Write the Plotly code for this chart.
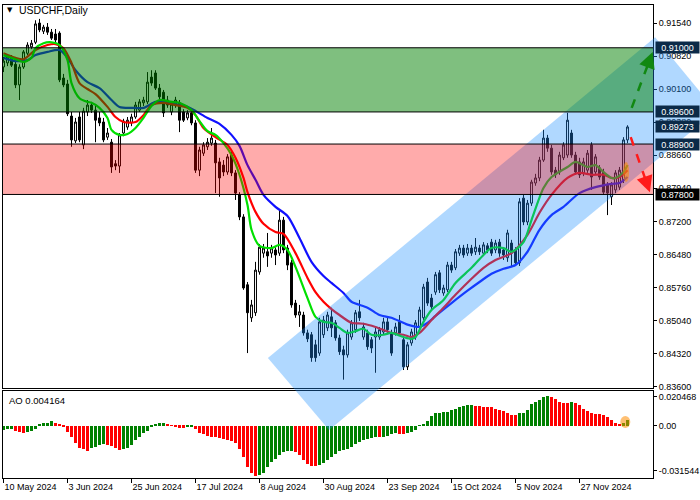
import plotly.graph_objects as go
import pandas as pd

# ---------------- data ----------------
DATES = pd.bdate_range("2024-05-10", periods=157)
BARS = list(range(len(DATES)))

OPEN = [0.9058,0.9067,0.9078,0.9064,0.9019,0.9058,0.9088,0.9102,0.9112,0.9154,
        0.9136,0.9145,0.9134,0.9130,0.9132,0.9034,0.9021,0.8951,0.8897,0.8949,
        0.8888,0.8960,0.8975,0.8964,0.8947,0.8938,0.8905,0.8894,0.8847,0.8842,
        0.8914,0.8927,0.8936,0.8949,0.8964,0.8980,0.8982,0.9036,0.9045,0.9012,
        0.9003,0.8986,0.8960,0.8975,0.8980,0.8960,0.8947,0.8958,0.8936,0.8833,
        0.8870,0.8884,0.8892,0.8892,0.8851,0.8844,0.8829,0.8866,0.8827,0.8779,
        0.8731,0.8583,0.8511,0.8522,0.8611,0.8652,0.8655,0.8652,0.8659,0.8652,
        0.8724,0.8663,0.8631,0.8543,0.8517,0.8517,0.8478,0.8474,0.8452,0.8434,
        0.8474,0.8489,0.8513,0.8500,0.8467,0.8441,0.8430,0.8469,0.8485,0.8524,
        0.8469,0.8478,0.8463,0.8469,0.8469,0.8480,0.8502,0.8478,0.8478,0.8502,
        0.8463,0.8404,0.8456,0.8469,0.8491,0.8511,0.8589,0.8554,0.8567,0.8609,
        0.8565,0.8572,0.8626,0.8620,0.8652,0.8663,0.8652,0.8663,0.8655,0.8663,
        0.8652,0.8668,0.8676,0.8659,0.8676,0.8659,0.8642,0.8674,0.8659,0.8631,
        0.8772,0.8720,0.8761,0.8805,0.8816,0.8855,0.8903,0.8881,0.8833,0.8829,
        0.8860,0.8866,0.8914,0.8866,0.8851,0.8827,0.8833,0.8888,0.8829,0.8838,
        0.8829,0.8801,0.8775,0.8790,0.8796,0.8812,0.8899]
HIGH = [0.9080,0.9086,0.9084,0.9069,0.9064,0.9095,0.9112,0.9117,0.9160,0.9163,
        0.9150,0.9154,0.9141,0.9141,0.9136,0.9043,0.9030,0.8960,0.8947,0.8960,
        0.8969,0.8986,0.8982,0.8973,0.8960,0.8947,0.8925,0.8901,0.8855,0.8914,
        0.8945,0.8949,0.8956,0.8982,0.8988,0.8993,0.9047,0.9051,0.9051,0.9021,
        0.9008,0.8995,0.8984,0.8993,0.8986,0.8966,0.8964,0.8964,0.8942,0.8884,
        0.8894,0.8903,0.8925,0.8899,0.8860,0.8855,0.8868,0.8877,0.8833,0.8785,
        0.8737,0.8589,0.8550,0.8633,0.8672,0.8672,0.8696,0.8670,0.8665,0.8746,
        0.8731,0.8670,0.8637,0.8550,0.8539,0.8524,0.8485,0.8480,0.8463,0.8511,
        0.8515,0.8524,0.8533,0.8506,0.8474,0.8450,0.8485,0.8506,0.8528,0.8550,
        0.8500,0.8485,0.8469,0.8489,0.8491,0.8511,0.8511,0.8485,0.8500,0.8517,
        0.8469,0.8458,0.8487,0.8506,0.8535,0.8585,0.8598,0.8563,0.8611,0.8615,
        0.8583,0.8633,0.8633,0.8661,0.8670,0.8670,0.8672,0.8670,0.8685,0.8670,
        0.8676,0.8674,0.8683,0.8681,0.8683,0.8665,0.8703,0.8681,0.8665,0.8772,
        0.8779,0.8768,0.8812,0.8825,0.8862,0.8921,0.8910,0.8888,0.8840,0.8873,
        0.8894,0.8958,0.8921,0.8873,0.8860,0.8860,0.8877,0.8894,0.8868,0.8844,
        0.8836,0.8807,0.8807,0.8833,0.8840,0.8905,0.8931]
LOW = [0.9047,0.9060,0.9058,0.9012,0.8986,0.9054,0.9084,0.9097,0.9108,0.9134,
       0.9130,0.9128,0.9117,0.9112,0.9025,0.9014,0.8951,0.8884,0.8892,0.8894,
       0.8879,0.8951,0.8958,0.8894,0.8929,0.8894,0.8899,0.8827,0.8833,0.8827,
       0.8907,0.8921,0.8929,0.8945,0.8960,0.8973,0.8977,0.9017,0.9008,0.8988,
       0.8949,0.8969,0.8953,0.8969,0.8916,0.8938,0.8942,0.8931,0.8827,0.8820,
       0.8864,0.8877,0.8886,0.8783,0.8775,0.8820,0.8823,0.8820,0.8768,0.8724,
       0.8572,0.8434,0.8502,0.8515,0.8605,0.8642,0.8622,0.8642,0.8626,0.8646,
       0.8652,0.8615,0.8533,0.8511,0.8491,0.8472,0.8458,0.8415,0.8415,0.8428,
       0.8467,0.8482,0.8469,0.8461,0.8430,0.8376,0.8424,0.8463,0.8478,0.8504,
       0.8463,0.8441,0.8434,0.8391,0.8463,0.8474,0.8478,0.8428,0.8472,0.8472,
       0.8397,0.8397,0.8450,0.8463,0.8485,0.8506,0.8537,0.8528,0.8561,0.8565,
       0.8559,0.8567,0.8609,0.8615,0.8646,0.8642,0.8646,0.8646,0.8648,0.8648,
       0.8646,0.8652,0.8646,0.8652,0.8644,0.8637,0.8633,0.8622,0.8624,0.8624,
       0.8713,0.8713,0.8755,0.8799,0.8809,0.8851,0.8873,0.8823,0.8816,0.8823,
       0.8855,0.8860,0.8860,0.8823,0.8816,0.8820,0.8827,0.8790,0.8823,0.8812,
       0.8779,0.8735,0.8757,0.8783,0.8790,0.8805,0.8892]
CLOSE = [0.9071,0.9080,0.9062,0.9019,0.9058,0.9091,0.9106,0.9110,0.9152,0.9139,
         0.9145,0.9134,0.9121,0.9117,0.9030,0.9019,0.8956,0.8899,0.8938,0.8899,
         0.8962,0.8975,0.8964,0.8942,0.8936,0.8899,0.8914,0.8840,0.8842,0.8910,
         0.8940,0.8942,0.8949,0.8975,0.8982,0.8986,0.9025,0.9023,0.9012,0.8993,
         0.8958,0.8975,0.8977,0.8986,0.8942,0.8942,0.8958,0.8936,0.8833,0.8877,
         0.8888,0.8894,0.8903,0.8849,0.8816,0.8829,0.8862,0.8827,0.8783,0.8731,
         0.8576,0.8522,0.8539,0.8615,0.8665,0.8663,0.8646,0.8663,0.8648,0.8724,
         0.8659,0.8626,0.8539,0.8517,0.8524,0.8478,0.8465,0.8424,0.8424,0.8502,
         0.8506,0.8517,0.8489,0.8467,0.8437,0.8430,0.8478,0.8500,0.8522,0.8511,
         0.8491,0.8448,0.8445,0.8480,0.8485,0.8502,0.8485,0.8434,0.8491,0.8478,
         0.8404,0.8452,0.8480,0.8500,0.8528,0.8578,0.8543,0.8535,0.8605,0.8572,
         0.8576,0.8626,0.8615,0.8655,0.8663,0.8648,0.8663,0.8652,0.8665,0.8655,
         0.8670,0.8659,0.8652,0.8674,0.8652,0.8648,0.8696,0.8652,0.8631,0.8764,
         0.8720,0.8761,0.8807,0.8816,0.8855,0.8903,0.8881,0.8829,0.8823,0.8866,
         0.8888,0.8942,0.8866,0.8829,0.8823,0.8851,0.8870,0.8818,0.8862,0.8818,
         0.8785,0.8783,0.8801,0.8827,0.8833,0.8899,0.89273]

# moving averages (bar index, value)
FAST_BARS = [0,3,5,7,8,10,12,14,16,17,19,21,22,24,26,27,29,31,33,35,37,39,42,44,47,49,
             51,53,55,57,59,61,62,64,67,69,71,73,76,78,80,82,84,86,88,90,92,95,97,100,
             102,103,105,107,110,113,117,120,122,125,127,130,132,135,137,141,143,146,
             148,150,152,153,155,156]
FAST = [0.9084,0.9075,0.9069,0.9078,0.9099,0.9110,0.9112,0.9106,0.9073,0.9023,0.8990,
        0.8982,0.8980,0.8969,0.8947,0.8921,0.8910,0.8912,0.8925,0.8947,0.8973,0.8986,
        0.8982,0.8980,0.8964,0.8940,0.8918,0.8910,0.8892,0.8866,0.8823,0.8757,0.8703,
        0.8668,0.8663,0.8670,0.8659,0.8622,0.8554,0.8513,0.8502,0.8500,0.8489,0.8478,
        0.8482,0.8487,0.8474,0.8474,0.8478,0.8469,0.8465,0.8469,0.8502,0.8528,0.8550,
        0.8587,0.8620,0.8648,0.8663,0.8663,0.8655,0.8676,0.8724,0.8794,0.8818,0.8840,
        0.8851,0.8840,0.8844,0.8829,0.8816,0.8816,0.8829,0.8844]
MID_BARS = [0,3,5,8,11,13,15,17,19,21,23,26,28,30,33,35,37,40,43,46,48,50,53,56,58,60,
            61,63,65,68,70,73,76,78,80,82,84,87,90,93,97,100,102,104,107,110,113,117,
            120,123,127,131,134,137,141,144,147,150,152,154,156]
MID = [0.9088,0.9078,0.9075,0.9095,0.9106,0.9108,0.9099,0.9067,0.9023,0.9010,0.8999,
       0.8971,0.8949,0.8938,0.8938,0.8953,0.8975,0.8980,0.8975,0.8969,0.8953,0.8925,
       0.8905,0.8888,0.8860,0.8816,0.8785,0.8742,0.8716,0.8698,0.8694,0.8652,0.8598,
       0.8567,0.8546,0.8530,0.8517,0.8500,0.8498,0.8491,0.8478,0.8474,0.8469,0.8478,
       0.8506,0.8533,0.8561,0.8596,0.8620,0.8637,0.8652,0.8692,0.8740,0.8779,0.8816,
       0.8827,0.8823,0.8823,0.8816,0.8818,0.8833]
SLOW_BARS = [0,3,6,8,11,14,16,18,21,24,27,29,32,35,38,40,43,46,48,51,54,57,59,61,63,65,
             68,71,74,77,80,82,85,87,91,94,97,101,104,106,108,112,116,119,122,125,128,
             131,134,137,140,144,148,152,154,156]
SLOW = [0.9078,0.9071,0.9073,0.9084,0.9091,0.9095,0.9078,0.9051,0.9025,0.9012,0.8986,
        0.8971,0.8969,0.8969,0.8982,0.8982,0.8977,0.8971,0.8962,0.8947,0.8934,0.8910,
        0.8886,0.8844,0.8812,0.8779,0.8753,0.8733,0.8685,0.8633,0.8602,0.8587,0.8565,
        0.8546,0.8533,0.8517,0.8511,0.8496,0.8491,0.8500,0.8515,0.8543,0.8570,0.8589,
        0.8607,0.8618,0.8626,0.8655,0.8703,0.8735,0.8753,0.8783,0.8796,0.8803,0.8805,
        0.8818]

AO = [-0.0025,-0.0022,-0.0021,-0.0033,-0.0045,-0.0047,-0.0040,-0.0033,-0.0019,0.0012,
      0.0019,0.0023,0.0033,0.0023,0.0014,-0.0005,-0.0040,-0.0075,-0.0117,-0.0157,
      -0.0164,-0.0174,-0.0153,-0.0146,-0.0134,-0.0127,-0.0134,-0.0141,-0.0157,-0.0169,
      -0.0162,-0.0157,-0.0134,-0.0099,-0.0075,-0.0052,-0.0033,-0.0009,0.0007,0.0021,
      0.0023,0.0014,0.0005,-0.0005,-0.0012,-0.0013,-0.0005,-0.0002,-0.0023,-0.0047,
      -0.0056,-0.0070,-0.0075,-0.0080,-0.0087,-0.0094,-0.0099,-0.0106,-0.0122,-0.0164,
      -0.0221,-0.0287,-0.0329,-0.0350,-0.0345,-0.0334,-0.0287,-0.0251,-0.0233,-0.0204,
      -0.0181,-0.0176,-0.0174,-0.0181,-0.0204,-0.0240,-0.0268,-0.0282,-0.0283,-0.0275,
      -0.0263,-0.0240,-0.0221,-0.0197,-0.0174,-0.0169,-0.0165,-0.0150,-0.0130,-0.0112,
      -0.0100,-0.0091,-0.0085,-0.0080,-0.0081,-0.0076,-0.0068,-0.0059,-0.0052,-0.0053,
      -0.0054,-0.0047,-0.0040,-0.0028,0.0005,0.0012,0.0035,0.0070,0.0089,0.0094,
      0.0096,0.0098,0.0113,0.0117,0.0136,0.0143,0.0146,0.0149,0.0143,0.0141,
      0.0136,0.0135,0.0132,0.0120,0.0113,0.0106,0.0094,0.0080,0.0078,0.0089,
      0.0091,0.0113,0.0155,0.0172,0.0183,0.0207,0.0212,0.0202,0.0188,0.0172,
      0.0165,0.0163,0.0166,0.0160,0.0148,0.0117,0.0106,0.0094,0.0087,0.0085,
      0.0075,0.0066,0.0042,0.0023,0.0014,0.0023,0.004164]

TICK_BARS = [0, 16, 32, 48, 64, 80, 96, 112, 128, 144]
TICK_LABELS = ["10 May 2024", "3 Jun 2024", "25 Jun 2024", "17 Jul 2024", "8 Aug 2024",
               "30 Aug 2024", "23 Sep 2024", "15 Oct 2024", "5 Nov 2024", "27 Nov 2024"]
PRICE_TICKS = [0.9154, 0.9082, 0.9010, 0.8938, 0.8866, 0.8794, 0.8720, 0.8648,
               0.8576, 0.8504, 0.8432, 0.8360]
AO_TICKS = [0.020468, 0.0, -0.031544]
AO_TICK_TEXT = ["0.020468", "0.00", "-0.031544"]

BUY_ZONE = [0.8960, 0.9100]
SELL_ZONE = [0.8780, 0.8890]
LEVELS = [0.9100, 0.8960, 0.8890, 0.8780]
LAST_PRICE = 0.89273

# channel corners (bar index, price)
CHANNEL_BARS = [66.1, 81.4, 178.1, 162.9]
CHANNEL_PRICES = [0.8423, 0.8266, 0.8962, 0.9123]

# arrows (bar, price) start -> end
UP_ARROW = [(157.05, 0.8969), (162.3, 0.9091)]
DOWN_ARROW = [(156.8, 0.8905), (161.6, 0.8785)]

# ---------------- layout geometry ----------------
W, H = 700, 500
XR = [-0.125, 162.375]
YR = [0.83578, 0.91933]
AOR = [-0.0366, 0.0246]
XD = [3 / W, 653 / W]
YD_MAIN = [1 - 388 / H, 1 - 5 / H]
YD_AO = [1 - 478 / H, 1 - 391 / H]
FONT = "Liberation Sans"


def to_paper(bar, price):
    px = XD[0] + (bar - XR[0]) / (XR[1] - XR[0]) * (XD[1] - XD[0])
    py = YD_MAIN[0] + (price - YR[0]) / (YR[1] - YR[0]) * (YD_MAIN[1] - YD_MAIN[0])
    return px, py


fig = go.Figure()

fig.add_trace(go.Candlestick(
    x=BARS, open=OPEN, high=HIGH, low=LOW, close=CLOSE,
    increasing=dict(line=dict(color="black", width=1), fillcolor="white"),
    decreasing=dict(line=dict(color="black", width=1), fillcolor="black"),
    whiskerwidth=0, hoverinfo="skip", xaxis="x", yaxis="y"))

for bx, vals, col in [(SLOW_BARS, SLOW, "#1010FF"), (MID_BARS, MID, "#FF0000"),
                      (FAST_BARS, FAST, "#00E000")]:
    fig.add_trace(go.Scatter(x=bx, y=vals, mode="lines",
                             line=dict(color=col, width=2.2, shape="spline", smoothing=0.8),
                             hoverinfo="skip", xaxis="x", yaxis="y"))

ao_colors = ["#008000"] + ["#008000" if AO[i] > AO[i - 1] else "#FF0000"
                           for i in range(1, len(AO))]
fig.add_trace(go.Bar(x=BARS, y=AO, marker=dict(color=ao_colors, line=dict(width=0)),
                     width=0.75, hoverinfo="skip", xaxis="x2", yaxis="y2"))

shapes = []
pts = [to_paper(b, p) for b, p in zip(CHANNEL_BARS, CHANNEL_PRICES)]
path = "M " + " L ".join(f"{x:.5f},{y:.5f}" for x, y in pts) + " Z"
shapes.append(dict(type="path", path=path, xref="paper", yref="paper",
                   fillcolor="rgba(30,144,255,0.35)", line=dict(width=0), layer="above"))
shapes.append(dict(type="rect", xref="x", yref="y", x0=XR[0], x1=XR[1],
                   y0=BUY_ZONE[0], y1=BUY_ZONE[1], fillcolor="rgba(0,128,0,0.5)",
                   line=dict(width=0), layer="above"))
shapes.append(dict(type="rect", xref="x", yref="y", x0=XR[0], x1=XR[1],
                   y0=SELL_ZONE[0], y1=SELL_ZONE[1], fillcolor="rgba(255,0,0,0.33)",
                   line=dict(width=0), layer="above"))
for lv in LEVELS:
    shapes.append(dict(type="line", xref="x", yref="y", x0=XR[0], x1=XR[1], y0=lv, y1=lv,
                       line=dict(color="black", width=1), layer="above"))
shapes.append(dict(type="circle", xref="x", yref="y", x0=154.9, x1=156.4,
                   y0=0.8807, y1=0.8851, fillcolor="rgba(255,140,0,0.55)",
                   line=dict(width=0), layer="above"))
shapes.append(dict(type="circle", xref="x2", yref="y2", x0=154.2, x1=156.7,
                   y0=-0.0014, y1=0.0070, fillcolor="rgba(255,140,0,0.55)",
                   line=dict(width=0), layer="above"))
for (s, e), col in [(UP_ARROW, "#118811"), (DOWN_ARROW, "#FF1A1A")]:
    shapes.append(dict(type="line", xref="x", yref="y", x0=s[0], y0=s[1],
                       x1=s[0] + 0.8 * (e[0] - s[0]), y1=s[1] + 0.8 * (e[1] - s[1]),
                       line=dict(color=col, width=2.5, dash="dash"), layer="above"))

annotations = []
for (s, e), col in [(UP_ARROW, "#118811"), (DOWN_ARROW, "#FF1A1A")]:
    annotations.append(dict(x=e[0], y=e[1], xref="x", yref="y",
                            ax=e[0] - 0.3 * (e[0] - s[0]), ay=e[1] - 0.3 * (e[1] - s[1]),
                            axref="x", ayref="y", text="", showarrow=True,
                            arrowhead=2, arrowsize=1.3, arrowwidth=2.5, arrowcolor=col,
                            standoff=0))

label_boxes = [(0.9100, "#0B2A48"), (0.8960, "#0B2A48"), (LAST_PRICE, "#0B2A48"),
               (0.8890, "#0B2A48"), (0.8780, "black")]
for lv, bg in label_boxes:
    annotations.append(dict(x=655 / W, xref="paper", y=lv, yref="y", xanchor="left",
                            yanchor="middle", text=f"{lv:.5f}", showarrow=False,
                            bgcolor=bg, width=43, height=11, align="center", borderpad=0,
                            font=dict(family=FONT, size=9, color="white")))

annotations.append(dict(x=5 / W, y=1 - 10 / H, xref="paper", yref="paper", text="▼",
                        showarrow=False, xanchor="left", yanchor="middle",
                        font=dict(family="DejaVu Sans", size=7, color="black")))
annotations.append(dict(x=17 / W, y=1 - 10 / H, xref="paper", yref="paper",
                        text="USDCHF,Daily", showarrow=False, xanchor="left",
                        yanchor="middle", font=dict(family=FONT, size=10.5, color="black")))
annotations.append(dict(x=7 / W, y=1 - 400 / H, xref="paper", yref="paper",
                        text=f"AO {AO[-1]:.6f}", showarrow=False, xanchor="left",
                        yanchor="middle", font=dict(family=FONT, size=9.5, color="black")))

axis_common = dict(showgrid=False, zeroline=False, showline=True, linecolor="black",
                   linewidth=1, mirror=True, automargin=False, fixedrange=True)

fig.update_layout(
    width=W, height=H, margin=dict(l=0, r=0, t=0, b=0, pad=0),
    paper_bgcolor="white", plot_bgcolor="white", showlegend=False,
    bargap=0, hovermode=False,
    xaxis=dict(domain=XD, range=XR, anchor="y", showticklabels=False, ticks="",
               rangeslider=dict(visible=False), **axis_common),
    yaxis=dict(domain=YD_MAIN, range=YR, anchor="x", side="right",
               tickvals=PRICE_TICKS, ticktext=[f"{v:.5f}" for v in PRICE_TICKS],
               ticks="outside", ticklen=3, tickcolor="black",
               tickfont=dict(family=FONT, size=9, color="black"), **axis_common),
    xaxis2=dict(domain=XD, range=XR, anchor="y2", tickvals=TICK_BARS,
                ticktext=TICK_LABELS, ticks="outside", ticklen=4, tickcolor="black",
                ticklabelposition="outside right",
                tickfont=dict(family=FONT, size=9, color="black"), **axis_common),
    yaxis2=dict(domain=YD_AO, range=AOR, anchor="x2", side="right",
                tickvals=AO_TICKS, ticktext=AO_TICK_TEXT, ticks="outside", ticklen=3,
                tickcolor="black", tickfont=dict(family=FONT, size=9, color="black"),
                **axis_common),
    shapes=shapes, annotations=annotations,
)

fig.write_html("out.html", config={"displayModeBar": False},
               post_script="document.body.style.margin='0';document.body.style.padding='0';")
